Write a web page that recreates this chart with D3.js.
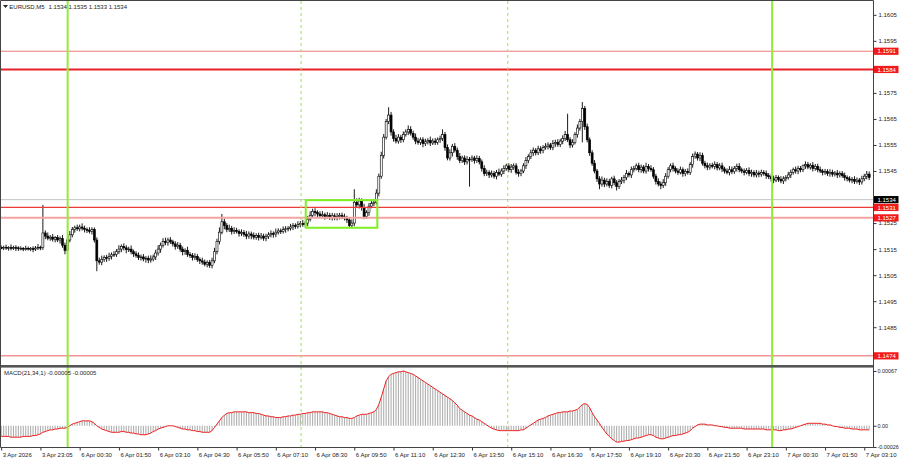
<!DOCTYPE html>
<html>
<head>
<meta charset="utf-8">
<script src="https://cdn.jsdelivr.net/npm/d3@7"></script>
<style>
body { margin: 0; background: #fff; }
svg { display: block; font-family: "Liberation Sans", Arial, sans-serif; }
</style>
</head>
<body>
<div id="chart"></div>
<script>
// EURUSD M5 closes, in 0.00001 above 1.1500 (one per bar)
var closes = [
155,157,154,156,153,156,155,152,153,152,153,151,152,150,154,157,156,
212,
200,192,196,188,194,185,190,
165,145,185,205,
225,232,228,235,230,226,222,218,225,
185,105,
100,110,118,115,122,128,130,
140,150,160,155,148,150,140,132,
125,118,120,112,115,108,112,120,
135,150,165,180,175,185,178,170,160,165,
150,140,145,130,125,118,122,110,105,
100,92,98,88,
105,140,180,215,255,240,225,230,218,222,
218,210,214,206,200,208,202,196,203,195,200,192,198,
205,210,208,215,220,218,225,228,230,
235,240,238,245,248,244,250,
265,280,295,290,
285,278,282,275,280,272,278,270,276,280,274,270,262,
240,250,
330,320,335,310,
275,290,
315,325,330,
365,430,510,580,640,665,
600,575,565,580,570,
590,600,610,595,
580,565,560,570,555,562,568,558,565,560,570,575,590,
540,500,520,545,530,
505,490,500,485,495,
495,500,490,498,485,
460,440,445,
435,440,430,445,438,450,
460,470,455,465,470,
445,440,450,
470,490,505,520,
530,520,535,528,540,
545,550,540,555,560,552,565,
575,590,570,550,
560,590,615,640,690,
620,570,520,480,
450,420,400,415,
400,410,395,420,405,390,410,415,
425,440,435,455,460,
470,455,465,450,468,460,455,
430,410,400,395,405,
430,455,470,460,
450,445,455,440,448,445,
475,505,515,500,510,
480,470,465,472,468,475,462,470,458,
450,445,455,448,460,468,455,450,445,452,
440,445,435,442,438,445,440,432,428,
420,415,425,418,412,420,425,
435,445,455,450,460,455,
470,475,465,472,460,468,455,
450,445,448,440,445,438,442,435,440,432,
425,420,415,418,410,415,408,
420,430,438,425
];
var firstOpen = 156;

// upper / lower wick lengths, same units
var wickUp = [
8,6,10,5,12,7,9,6,8,5,10,7,6,9,8,12,6,108,10,14,
8,12,6,10,9,14,10,12,15,10,8,12,9,14,10,7,12,9,8,10,
12,15,8,10,14,9,12,10,15,8,12,10,9,14,8,10,12,9,11,8,
10,14,9,12,15,10,12,14,9,11,8,10,12,9,10,8,14,9,10,12,
9,8,12,10,9,10,12,15,10,18,30,12,10,14,9,12,10,8,12,9,
14,10,9,12,8,10,12,9,11,10,12,8,14,10,9,12,10,8,12,10,
9,12,10,14,8,12,15,10,12,9,10,14,8,12,9,11,10,12,9,10,
12,8,10,14,50,15,12,10,14,9,12,10,12,15,10,14,12,10,30,12,
10,14,12,9,12,10,15,12,10,14,12,9,10,12,8,14,10,12,9,11,
20,10,12,14,9,12,10,14,9,10,12,9,10,8,12,10,9,12,10,8,
12,10,9,14,10,12,8,10,12,9,10,12,8,10,14,9,12,10,8,12,
10,9,12,10,8,14,10,12,9,12,14,80,10,12,9,14,10,25,10,12,
9,10,12,8,10,14,9,12,10,8,12,10,9,12,10,14,8,12,10,9,
12,10,8,14,9,12,10,9,12,10,14,12,10,9,12,8,10,12,9,10,
12,9,12,10,8,12,10,9,12,8,10,12,9,10,12,8,10,14,12,9,
10,12,8,10,9,12,10,8,12,9,10,8,12,10,9,12,10,8,12,10,
9,12,10,8,12,10,9,5,12,10,8,12,9,10,12,8,10,9,12,10,
8,12,9,10,12,8,10,9,12,10,8,12,9,12,10
];
var wickDn = [
6,9,7,10,8,6,12,9,7,10,8,6,9,12,7,8,10,9,12,8,
10,9,12,8,14,10,15,12,9,10,12,8,10,9,12,10,8,12,10,40,
10,12,9,14,10,12,8,10,9,12,10,14,9,10,12,8,10,12,9,14,
12,10,9,12,10,14,9,10,12,8,10,12,9,10,14,12,10,9,12,10,
9,12,10,8,12,10,12,9,10,12,8,14,10,9,12,10,8,12,10,9,
12,10,14,9,10,12,8,10,12,9,10,14,12,9,10,8,12,10,9,12,
10,9,12,8,10,12,9,10,14,12,9,10,12,8,10,12,9,10,12,9,
10,12,9,10,12,10,14,12,10,9,12,8,10,9,12,10,12,9,10,14,
12,9,10,12,10,8,12,9,10,12,9,10,14,9,10,12,8,10,9,12,
10,12,9,10,14,9,12,10,9,12,10,105,10,12,9,10,12,10,9,12,
10,9,12,8,10,12,9,10,12,10,9,12,10,8,12,10,9,12,10,9,
12,10,8,12,9,10,12,9,10,12,10,9,12,10,8,12,10,80,12,10,
12,10,9,12,20,10,12,9,10,12,10,15,9,10,12,10,9,12,10,8,
10,12,9,10,12,8,10,12,9,15,10,12,9,10,12,9,10,8,12,10,
9,10,12,8,10,12,9,10,12,10,8,12,10,9,12,10,8,12,10,9,
12,10,9,12,8,10,12,9,10,12,10,8,12,9,10,12,8,10,9,12,
10,8,12,9,10,12,10,9,12,8,10,12,9,10,8,12,10,9,12,10,
9,12,10,8,12,10,9,12,10,8,12,10,9,12,10
];

// MACD(21,34,1) main = signal, in 0.00001
var macd = [
-13,-13,-13,-13,-14,-14,-14,-14,-14,-13,-13,-13,-13,-12,-12,
-11,-10,-8,-7,-6,-5,
-5,-4,-4,-3,-3,-3,-2,
0,2,3,4,5,
6,6,6,6,5,
3,0,-2,-4,-5,-6,-7,-8,-8,
-8,-8,-7,-7,-8,-8,-9,-9,-10,-10,-11,-11,-11,
-10,-9,-7,-6,-4,-3,-2,-1,0,0,0,
-1,-2,-3,-4,-4,-5,-5,
-6,-6,-7,-7,-8,-8,-8,-8,
-6,-2,2,6,10,13,15,
16,16,17,17,17,17,17,17,16,16,16,15,15,14,
13,12,12,11,11,10,10,10,11,
11,12,12,13,13,14,14,15,15,16,16,
17,17,17,17,17,16,
16,15,14,13,12,11,11,10,10,
9,9,10,
12,13,14,14,14,15,16,17,
20,26,35,45,55,
60,63,64,65,66,66,67,
66,65,64,63,61,59,57,55,53,51,49,47,45,43,41,39,37,35,33,
31,28,25,21,19,17,15,13,12,10,8,7,5,
3,1,-1,-3,-4,-5,
-6,-6,-6,-6,-6,-6,-6,-6,-6,-5,-5,
-3,-1,1,3,5,7,8,9,10,12,13,
14,15,16,16,17,17,17,18,18,19,20,
23,26,27,26,
22,16,11,7,3,-2,-6,-10,-13,-16,-18,-20,-20,
-19,-19,-18,-18,-17,-16,-15,-15,-14,-13,-12,-11,-11,-12,-14,
-15,-16,-16,-15,-14,-13,-12,-12,-11,-11,-10,-9,-8,-6,
-3,-1,1,2,
2,2,1,1,1,0,0,
-1,-1,-2,-2,-3,-3,-3,
-3,-3,-3,-4,-4,-4,-4,-4,-4,-4,-4,-4,-5,-5,-5,
-5,-5,-6,-6,-5,
-5,-4,-4,-3,-2,-1,0,1,
2,3,3,3,3,3,3,2,2,1,
1,0,-1,-1,-2,-2,-3,-3,-3,
-4,-4,-4,-5,-5,-5,-5,-5
];

var symbol = "EURUSD,M5";
var lastOHLC = [1.1534, 1.1535, 1.1533, 1.1534];
var macdName = "MACD(21,34,1)";
var macdLast = [-0.00005, -0.00005];

var priceTicks = [1.1605, 1.1595, 1.1585, 1.1575, 1.1565, 1.1555, 1.1545, 1.1535,
                  1.1525, 1.1515, 1.1505, 1.1495, 1.1485, 1.1475];
var macdTicks = [0.00067, 0, -0.00026];
var macdTickLabels = ["0.00067", "0.00", "-0.00026"];
var timeLabels = ["3 Apr 2026", "3 Apr 23:05", "6 Apr 00:30", "6 Apr 01:50", "6 Apr 03:10",
                  "6 Apr 04:30", "6 Apr 05:50", "6 Apr 07:10", "6 Apr 08:30", "6 Apr 09:50",
                  "6 Apr 11:10", "6 Apr 12:30", "6 Apr 13:50", "6 Apr 15:10", "6 Apr 16:30",
                  "6 Apr 17:50", "6 Apr 19:10", "6 Apr 20:30", "6 Apr 21:50", "6 Apr 23:10",
                  "7 Apr 00:30", "7 Apr 01:50", "7 Apr 03:10"];
var barsPerLabel = 16;

var levels = [1.1591, 1.1584, 1.1531, 1.1527, 1.1474];
var bidPrice = 1.1534;
var dayLines = [27.1, 314.4];       // bar index
var sessionLines = [122.3, 206.6];  // bar index
var zoneBars = [124.2, 153.4];
var zonePrices = [1.15338, 1.15232];

// styles
var levelColors = ["#f07a7a", "#e8222a", "#f03a3a", "#f5a2a2", "#f39494"],
    levelWidths = [1, 2, 1.2, 2, 1.5];

var bars = closes.map(function(c, i){
    var o = i == 0 ? firstOpen : closes[i-1];
    return {
        i: i,
        open: 1.15 + o / 100000,
        close: 1.15 + c / 100000,
        high: 1.15 + (Math.max(o, c) + wickUp[i]) / 100000,
        low: 1.15 + (Math.min(o, c) - wickDn[i]) / 100000
    };
});

var width = 900, height = 460,
    plotRight = 873.5;

var svg = d3.select("#chart").append("svg")
    .attr("width", width)
    .attr("height", height);

svg.append("rect").attr("width", width).attr("height", height).attr("fill", "#fff");

var x = d3.scaleLinear().domain([0, closes.length - 1]).range([1.2, 869.2]);
var y = d3.scaleLinear().domain([1.14701, 1.16103]).range([366, 1]);
var yM = d3.scaleLinear().domain([-0.00026, 0.00067]).range([447, 371]);

var defs = svg.append("defs");
defs.append("clipPath").attr("id", "clip-main")
    .append("rect").attr("x", 1).attr("y", 1).attr("width", 872).attr("height", 364);
defs.append("clipPath").attr("id", "clip-macd")
    .append("rect").attr("x", 1).attr("y", 368).attr("width", 872).attr("height", 79);

// candles
var main = svg.append("g").attr("clip-path", "url(#clip-main)");

main.append("g").selectAll("line")
    .data(bars).enter().append("line")
    .attr("x1", function(d){ return x(d.i); })
    .attr("x2", function(d){ return x(d.i); })
    .attr("y1", function(d){ return y(d.high); })
    .attr("y2", function(d){ return y(d.low); })
    .attr("stroke", "#000")
    .attr("stroke-width", 0.9);

main.append("g").selectAll("rect")
    .data(bars).enter().append("rect")
    .attr("x", function(d){ return x(d.i) - 1; })
    .attr("width", 2)
    .attr("y", function(d){ return y(Math.max(d.open, d.close)); })
    .attr("height", function(d){ return Math.max(0.8, Math.abs(y(d.open) - y(d.close))); })
    .attr("fill", function(d){ return d.close > d.open ? "#fff" : "#000"; })
    .attr("stroke", "#000")
    .attr("stroke-width", 0.6);

// horizontal levels
main.append("line")
    .attr("x1", 1).attr("x2", plotRight)
    .attr("y1", y(bidPrice)).attr("y2", y(bidPrice))
    .attr("stroke", "#c4c4c4").attr("stroke-width", 1);

main.selectAll(".level")
    .data(levels).enter().append("line")
    .attr("class", "level")
    .attr("x1", 1).attr("x2", plotRight)
    .attr("y1", function(d){ return y(d); })
    .attr("y2", function(d){ return y(d); })
    .attr("stroke", function(d, i){ return levelColors[i]; })
    .attr("stroke-width", function(d, i){ return levelWidths[i]; });

// zone rectangle
main.append("rect")
    .attr("x", x(zoneBars[0]))
    .attr("width", x(zoneBars[1]) - x(zoneBars[0]))
    .attr("y", y(zonePrices[0]))
    .attr("height", y(zonePrices[1]) - y(zonePrices[0]))
    .attr("fill", "none")
    .attr("stroke", "#7eef22")
    .attr("stroke-width", 2);

// MACD histogram + signal
var sub = svg.append("g").attr("clip-path", "url(#clip-macd)");

sub.append("g").selectAll("line")
    .data(macd).enter().append("line")
    .attr("x1", function(d, i){ return x(i); })
    .attr("x2", function(d, i){ return x(i); })
    .attr("y1", yM(0))
    .attr("y2", function(d){ return yM(d / 100000); })
    .attr("stroke", "#b0b0b0")
    .attr("stroke-width", 1.1);

sub.append("path")
    .datum(macd)
    .attr("fill", "none")
    .attr("stroke", "#f01e1e")
    .attr("stroke-width", 1)
    .attr("d", d3.line()
        .x(function(d, i){ return x(i); })
        .y(function(d){ return yM(d / 100000); }));

// vertical markers across both windows
svg.selectAll(".dayline")
    .data(dayLines).enter().append("line")
    .attr("class", "dayline")
    .attr("x1", function(d){ return x(d); })
    .attr("x2", function(d){ return x(d); })
    .attr("y1", 1).attr("y2", 447)
    .attr("stroke", "#93ec36")
    .attr("stroke-width", 2);

svg.selectAll(".sessline")
    .data(sessionLines).enter().append("line")
    .attr("class", "sessline")
    .attr("x1", function(d){ return x(d); })
    .attr("x2", function(d){ return x(d); })
    .attr("y1", 1).attr("y2", 447)
    .attr("stroke", "#9ee05a")
    .attr("stroke-width", 1)
    .attr("stroke-dasharray", "3,3");

// frames
svg.append("rect").attr("x", 0).attr("y", 365).attr("width", plotRight).attr("height", 2.6).attr("fill", "#555");
svg.append("path")
    .attr("d", "M0.5,447.5V0.5H" + plotRight + "V447.5H0.5")
    .attr("fill", "none").attr("stroke", "#444").attr("stroke-width", 1);

var tagPrices = [bidPrice].concat(levels);

// price axis (labels hidden under a price tag are not drawn)
var pAxis = svg.append("g")
    .attr("transform", "translate(" + plotRight + ",0)")
    .call(d3.axisRight(y).tickValues(priceTicks).tickFormat(d3.format(".4f"))
          .tickSize(3).tickSizeOuter(0).tickPadding(2));
pAxis.select(".domain").remove();
pAxis.selectAll("line").attr("stroke", "#333");
pAxis.selectAll("text").attr("font-size", "6px").attr("font-family", "Liberation Sans, Arial, sans-serif").attr("fill", "#222");
pAxis.selectAll(".tick")
    .filter(function(d){ return tagPrices.some(function(t){ return Math.abs(y(t) - y(d)) < 4; }); })
    .select("text").remove();

var mAxis = svg.append("g")
    .attr("transform", "translate(" + plotRight + ",0)")
    .call(d3.axisRight(yM).tickValues(macdTicks).tickFormat(function(d, i){ return macdTickLabels[i]; })
          .tickSize(3).tickSizeOuter(0).tickPadding(1));
mAxis.select(".domain").remove();
mAxis.selectAll("line").attr("stroke", "#333");
mAxis.selectAll("text").attr("font-size", "5.4px").attr("font-family", "Liberation Sans, Arial, sans-serif").attr("fill", "#222");

// time axis
var tAxis = svg.append("g")
    .attr("transform", "translate(0,447.5)")
    .call(d3.axisBottom(x).tickValues(timeLabels.map(function(d, i){ return i * barsPerLabel; }))
          .tickFormat(function(d, i){ return timeLabels[i]; })
          .tickSize(3).tickSizeOuter(0).tickPadding(2));
tAxis.select(".domain").remove();
tAxis.selectAll("line").attr("stroke", "#333");
tAxis.selectAll("text")
    .attr("text-anchor", "start")
    .attr("dx", "1")
    .attr("font-size", "6px").attr("font-family", "Liberation Sans, Arial, sans-serif").attr("fill", "#222");

// price tags
function tag(price, color){
    var g = svg.append("g");
    g.append("rect")
        .attr("x", plotRight + 0.5).attr("y", y(price) - 3.6)
        .attr("width", 24.5).attr("height", 7.2)
        .attr("fill", color);
    g.append("text")
        .attr("x", plotRight + 4).attr("y", y(price) + 2.1)
        .attr("font-size", "6px").attr("fill", "#fff")
        .text(price.toFixed(4));
}
tag(bidPrice, "#000");
levels.forEach(function(l){ tag(l, "#f21a1a"); });

// titles
svg.append("path").attr("d", "M3,5H8L5.5,8Z").attr("fill", "#222");
svg.append("text").attr("x", 9.3).attr("y", 8.6).attr("font-size", "6px").attr("fill", "#222").text(symbol);
svg.append("text").attr("x", 48.6).attr("y", 8.6).attr("font-size", "6px").attr("fill", "#222")
    .text(lastOHLC.map(function(v){ return v.toFixed(4); }).join(" "));
svg.append("text").attr("x", 4).attr("y", 375.4).attr("font-size", "6px").attr("fill", "#222")
    .text(macdName + " " + macdLast.map(function(v){ return v.toFixed(5); }).join(" "));
</script>
</body>
</html>
